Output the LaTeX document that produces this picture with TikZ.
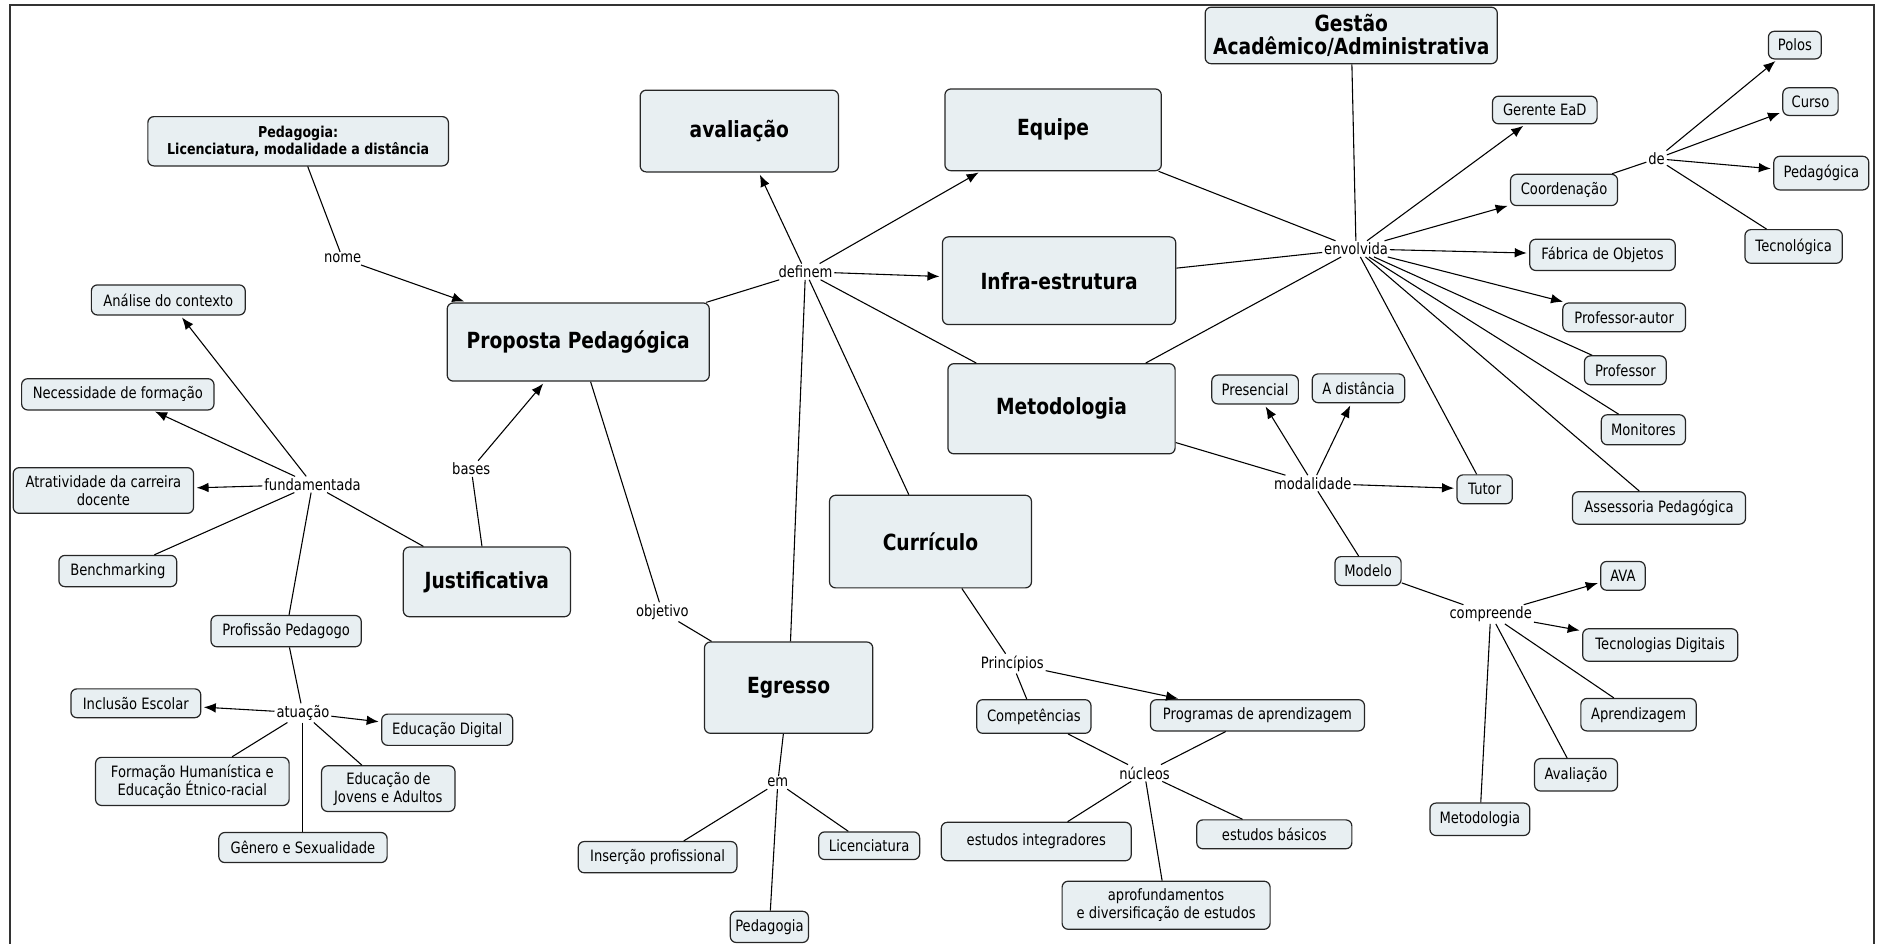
\documentclass[tikz,border=0pt]{standalone}
\usepackage{fontspec}
\setmainfont{DejaVu Sans}[FakeStretch=0.84]
\usetikzlibrary{arrows.meta}

\definecolor{cmapfill}{RGB}{232,239,242}

\tikzset{
  concept/.style = {draw=black!85, fill=cmapfill, rounded corners=5pt,
                    line width=1pt, align=center, inner sep=2pt,
                    font=\fontsize{13}{15}\selectfont},
  box/.style 2 args = {concept, minimum width=#1, minimum height=#2},
  bigbox/.style 2 args = {box={#1}{#2}, font=\fontsize{18.5}{20}\selectfont\bfseries},
  linkword/.style = {inner sep=1.5pt, font=\fontsize{13}{15}\selectfont},
  link/.style = {line width=0.9pt, black},
  linkto/.style = {link, -{Latex[length=10pt,width=8pt]}, shorten >=2pt}
}

\begin{document}
\begin{tikzpicture}[x=1pt, y=-1pt]
	\useasboundingbox (0,0) rectangle (1568,785);
	\draw[line width=1.5pt, black!80] (8,4) rectangle (1559,792);

	% Main concepts
	\node[bigbox={218pt}{65pt}] (proposta) at (481,284.5) {Proposta Pedagógica};
	\node[bigbox={139pt}{58pt}] (justif) at (405,484) {Justificativa};
	\node[bigbox={165pt}{68pt}] (avaliacao) at (615,109) {avaliação};
	\node[bigbox={180pt}{68pt}] (equipe) at (876,108) {Equipe};
	\node[bigbox={194pt}{73pt}] (infra) at (881,233.5) {Infra-estrutura};
	\node[bigbox={189pt}{75pt}] (metod) at (883,340) {Metodologia};
	\node[bigbox={168pt}{77pt}] (curriculo) at (774,450.5) {Currículo};
	\node[bigbox={140pt}{76pt}] (egresso) at (656,572) {Egresso};
	\node[bigbox={243pt}{47pt}, font=\fontsize{18.5}{18.5}\selectfont\bfseries] (gestao) at (1124,29.5) {Gestão\\Acadêmico/Administrativa};
	\node[box={250pt}{41pt}, font=\fontsize{12.5}{14}\selectfont\bfseries] (pedag) at (248,117.5)
		{Pedagogia:\\Licenciatura, modalidade a distância};

	% Justificativa side
	\node[box={128pt}{25pt}] (analise) at (140,249.5) {Análise do contexto};
	\node[box={160pt}{26pt}] (necess) at (98,328) {Necessidade de formação};
	\node[box={150pt}{38pt}] (atrat) at (86,408) {Atratividade da carreira\\docente};
	\node[box={98pt}{26pt}] (bench) at (98,475) {Benchmarking};
	\node[box={125pt}{26pt}] (prof) at (238,525) {Profissão Pedagogo};
	\node[box={108pt}{24pt}] (inclusao) at (113,585) {Inclusão Escolar};
	\node[box={109pt}{26pt}] (edudig) at (372,607) {Educação Digital};
	\node[box={161pt}{40pt}] (formacao) at (160,650) {Formação Humanística e\\Educação Étnico-racial};
	\node[box={111pt}{38pt}] (eja) at (323,656) {Educação de\\Jovens e Adultos};
	\node[box={140pt}{25pt}] (genero) at (252,705) {Gênero e Sexualidade};

	% Egresso and Curriculo
	\node[box={132pt}{26pt}] (insercao) at (547,713) {Inserção profissional};
	\node[box={84pt}{23pt}] (licenc) at (723,703.5) {Licenciatura};
	\node[box={65pt}{26pt}] (pedsmall) at (640,771) {Pedagogia};
	\node[box={95pt}{28pt}] (compet) at (860,596) {Competências};
	\node[box={178pt}{26pt}] (programas) at (1046,595) {Programas de aprendizagem};
	\node[box={158pt}{32pt}] (integr) at (862,700) {estudos integradores};
	\node[box={129pt}{24pt}] (basicos) at (1060,694) {estudos básicos};
	\node[box={173pt}{40pt}] (aprof) at (970,753) {aprofundamentos\\e diversificação de estudos};

	% Gestao side
	\node[box={87pt}{23pt}] (gerente) at (1285,91.5) {Gerente EaD};
	\node[box={89pt}{26pt}] (coord) at (1301,158) {Coordenação};
	\node[box={44pt}{23pt}] (polos) at (1493,37.5) {Polos};
	\node[box={46pt}{23pt}] (curso) at (1506,84.5) {Curso};
	\node[box={79pt}{28pt}] (pedagogica) at (1515,144) {Pedagógica};
	\node[box={81pt}{28pt}] (tecnologica) at (1492,205) {Tecnológica};
	\node[box={121pt}{26pt}] (fabrica) at (1333,212) {Fábrica de Objetos};
	\node[box={102pt}{24pt}] (profautor) at (1351,264) {Professor-autor};
	\node[box={68pt}{24pt}] (professor) at (1352,308) {Professor};
	\node[box={70pt}{25pt}] (monitores) at (1367,357.5) {Monitores};
	\node[box={46pt}{24pt}] (tutor) at (1235,407) {Tutor};
	\node[box={144pt}{27pt}] (assessoria) at (1380,422.5) {Assessoria Pedagógica};

	% Metodologia side
	\node[box={72pt}{24pt}] (presencial) at (1044,324) {Presencial};
	\node[box={77pt}{24pt}] (distancia) at (1130,323) {A distância};
	\node[box={55pt}{24pt}] (modelo) at (1138,475) {Modelo};
	\node[box={37pt}{24pt}] (ava) at (1350,479) {AVA};
	\node[box={129pt}{27pt}] (tecdig) at (1381,536.5) {Tecnologias Digitais};
	\node[box={96pt}{27pt}] (aprend) at (1363,594.5) {Aprendizagem};
	\node[box={69pt}{27pt}] (avalsmall) at (1311,644.5) {Avaliação};
	\node[box={83pt}{27pt}] (metodsmall) at (1231,681.5) {Metodologia};

	% Linking words
	\node[linkword] (nome) at (285,215) {nome};
	\node[linkword] (bases) at (392,390) {bases};
	\node[linkword] (fund) at (260,403) {fundamentada};
	\node[linkword] (atuacao) at (252,593) {atuação};
	\node[linkword] (definem) at (670,226) {definem};
	\node[linkword] (objetivo) at (551,509) {objetivo};
	\node[linkword] (em) at (647,651) {em};
	\node[linkword] (principios) at (842,552) {Princípios};
	\node[linkword] (nucleos) at (952,643) {núcleos};
	\node[linkword] (envolvida) at (1128,207) {envolvida};
	\node[linkword] (de) at (1378,132) {de};
	\node[linkword] (modalidade) at (1092,402) {modalidade};
	\node[linkword] (compreende) at (1240,511) {compreende};

	% Proposta
	\draw[link] (pedag) -- (nome);
	\draw[linkto] (nome) -- (proposta);
	\draw[link] (justif) -- (bases);
	\draw[linkto] (bases) -- (proposta);

	% Justificativa
	\draw[link] (justif) -- (fund);
	\draw[linkto] (fund) -- (analise);
	\draw[linkto] (fund) -- (necess);
	\draw[linkto] (fund) -- (atrat);
	\draw[link] (fund) -- (bench);
	\draw[link] (fund) -- (prof);

	% Profissao
	\draw[link] (prof) -- (atuacao);
	\draw[linkto] (atuacao) -- (inclusao);
	\draw[linkto] (atuacao) -- (edudig);
	\draw[link] (atuacao) -- (formacao);
	\draw[link] (atuacao) -- (eja);
	\draw[link] (atuacao) -- (genero);

	% definem
	\draw[link] (proposta) -- (definem);
	\draw[linkto] (definem) -- (avaliacao);
	\draw[linkto] (definem) -- (equipe);
	\draw[linkto] (definem) -- (infra);
	\draw[link] (definem) -- (metod);
	\draw[link] (definem) -- (curriculo);
	\draw[link] (definem) -- (egresso);

	% Egresso
	\draw[link] (proposta) -- (objetivo);
	\draw[link] (objetivo) -- (egresso);
	\draw[link] (egresso) -- (em);
	\draw[link] (em) -- (insercao);
	\draw[link] (em) -- (licenc);
	\draw[link] (em) -- (pedsmall);

	% Curriculo
	\draw[link] (curriculo) -- (principios);
	\draw[link] (principios) -- (compet);
	\draw[linkto] (principios) -- (programas);
	\draw[link] (compet) -- (nucleos);
	\draw[link] (programas) -- (nucleos);
	\draw[link] (nucleos) -- (integr);
	\draw[link] (nucleos) -- (basicos);
	\draw[link] (nucleos) -- (aprof);

	% envolvida
	\draw[link] (gestao) -- (envolvida);
	\draw[link] (equipe) -- (envolvida);
	\draw[link] (infra) -- (envolvida);
	\draw[link] (metod) -- (envolvida);
	\draw[linkto] (envolvida) -- (gerente);
	\draw[linkto] (envolvida) -- (coord);
	\draw[linkto] (envolvida) -- (fabrica);
	\draw[linkto] (envolvida) -- (profautor);
	\draw[link] (envolvida) -- (professor);
	\draw[link] (envolvida) -- (monitores);
	\draw[link] (envolvida) -- (assessoria);
	\draw[link] (envolvida) -- (tutor);

	% Coordenacao
	\draw[link] (coord) -- (de);
	\draw[linkto] (de) -- (polos);
	\draw[linkto] (de) -- (curso);
	\draw[linkto] (de) -- (pedagogica);
	\draw[link] (de) -- (tecnologica);

	% modalidade
	\draw[link] (metod) -- (modalidade);
	\draw[linkto] (modalidade) -- (presencial);
	\draw[linkto] (modalidade) -- (distancia);
	\draw[linkto] (modalidade) -- (tutor);
	\draw[link] (modalidade) -- (modelo);

	% Modelo
	\draw[link] (modelo) -- (compreende);
	\draw[linkto] (compreende) -- (ava);
	\draw[linkto] (compreende) -- (tecdig);
	\draw[link] (compreende) -- (aprend);
	\draw[link] (compreende) -- (avalsmall);
	\draw[link] (compreende) -- (metodsmall);

\end{tikzpicture}
\end{document}
